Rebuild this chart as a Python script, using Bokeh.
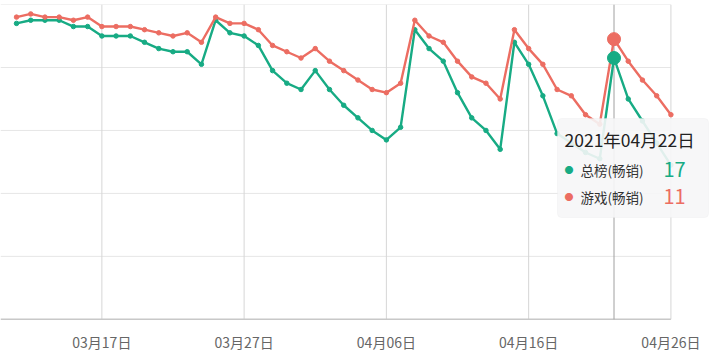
import pandas as pd
from bokeh.plotting import figure
from bokeh.models import (Range1d, FixedTicker, DatetimeTickFormatter,
                          BoxAnnotation, Label, ColumnDataSource)
from bokeh.embed import file_html
from bokeh.resources import INLINE

# ---------------- data ----------------
dates = pd.date_range("2021-03-11", "2021-04-26", freq="D")
total_rank = [6, 5, 5, 5, 7, 7, 10, 10, 10, 12, 14, 15, 15, 19, 5, 9, 10, 13, 21, 25,
              27, 21, 27, 32, 36, 40, 43, 39, 8, 14, 18, 28, 36, 40, 46, 12, 19, 29, 41, 44,
              47, 49, 17, 30, 37, 44, 51]
game_rank = [4, 3, 4, 4, 5, 4, 7, 7, 7, 8, 9, 10, 9, 12, 4, 6, 6, 8, 13, 15,
             17, 14, 18, 21, 24, 27, 28, 25, 5, 10, 12, 18, 23, 25, 30, 8, 14, 19, 27, 29,
             35, 38, 11, 18, 24, 29, 35]
series_names = ["总榜(畅销)", "游戏(畅销)"]
series_colors = ["#17ab84", "#ec6d62"]
tick_dates = ["2021-03-17", "2021-03-27", "2021-04-06", "2021-04-16", "2021-04-26"]
y_ticks = [0, 20, 40, 60, 80, 100]
tip_date = "2021-04-22"
tip_title = "2021年04月22日"

# ---------------- ranges ----------------
W, H = 725, 354
data_w = 671                      # pixel width of the drawn chart area
x_start = pd.Timestamp("2021-03-11") - pd.Timedelta(hours=27)
x_data_end = pd.Timestamp("2021-04-26") + pd.Timedelta(hours=1)
x_end = x_start + (x_data_end - x_start) * (W / data_w)
grid_end = pd.Timestamp(tick_dates[-1])

p = figure(width=W, height=H, output_backend="svg", toolbar_location=None,
           x_axis_type="datetime", y_axis_location=None,
           x_range=Range1d(x_start.to_pydatetime(), x_end.to_pydatetime()),
           y_range=Range1d(101, 0),
           min_border_left=0, min_border_right=0, min_border_top=4, min_border_bottom=31)
p.outline_line_color = None
p.background_fill_color = "white"
p.xgrid.visible = False
p.ygrid.visible = False

tick_ms = [pd.Timestamp(d).value // 10**6 for d in tick_dates]
p.xaxis.ticker = FixedTicker(ticks=tick_ms)
fmt = "%m月%d日"
p.xaxis.formatter = DatetimeTickFormatter(days=fmt, months=fmt, years=fmt, hours=fmt,
                                          hourmin=fmt, minutes=fmt, seconds=fmt,
                                          minsec=fmt, milliseconds=fmt, microseconds=fmt)
p.xaxis.axis_line_color = None
p.xaxis.major_tick_line_color = None
p.xaxis.minor_tick_line_color = None
p.xaxis.major_label_text_color = "#666666"
p.xaxis.major_label_text_font = "Noto Sans CJK SC"
p.xaxis.major_label_text_font_size = "14px"
p.xaxis.major_label_standoff = 3

# grid lines limited to the chart area
hy = y_ticks[:-1]
p.segment(x0=[x_start] * len(hy), x1=[grid_end] * len(hy), y0=hy, y1=hy,
          line_color="#e6e6e6", line_width=1)
vx = [pd.Timestamp(d) for d in tick_dates]
p.segment(x0=vx, x1=vx, y0=[y_ticks[0]] * len(vx), y1=[y_ticks[-1]] * len(vx),
          line_color="#d6d6d6", line_width=1)
# axis line
p.segment(x0=[x_start], x1=[grid_end], y0=[y_ticks[-1]], y1=[y_ticks[-1]],
          line_color="#c8c8c8", line_width=1.5)

# crosshair at tooltip date
tip_ts = pd.Timestamp(tip_date)
p.segment(x0=[tip_ts], x1=[tip_ts], y0=[y_ticks[0]], y1=[y_ticks[-1]],
          line_color="#a0a0a0", line_width=1)

src = ColumnDataSource(dict(date=dates, total=total_rank, game=game_rank))
for col, color in zip(["total", "game"], series_colors):
    p.line("date", col, source=src, line_color=color, line_width=2.4)
    p.scatter("date", col, source=src, size=4.5, fill_color=color, line_color=color)

idx = list(dates).index(tip_ts)
for vals, color in zip([total_rank, game_rank], series_colors):
    p.scatter([dates[idx]], [vals[idx]], size=13, fill_color=color, line_color=color)

# ---------------- tooltip ----------------
fb = 323  # frame bottom in canvas pixels (for screen-unit conversion)
p.add_layout(BoxAnnotation(left=557, right=708, top=fb - 119, bottom=fb - 218,
                           left_units="screen", right_units="screen",
                           top_units="screen", bottom_units="screen",
                           fill_color="#f6f6f7", fill_alpha=0.9,
                           line_color="#e8e8e8", line_width=1, border_radius=4,
                           level="overlay"))
font = "Noto Sans CJK SC"
p.add_layout(Label(x=564, y=fb - 140, x_units="screen", y_units="screen", text=tip_title,
                   text_font=font, text_font_size="17.5px", text_color="#222222",
                   text_baseline="middle", level="overlay"))
row_y = [170, 197]
for name, vals, color, ry in zip(series_names, [total_rank, game_rank], series_colors, row_y):
    p.add_layout(Label(x=564, y=fb - ry, x_units="screen", y_units="screen", text="●",
                       text_font=font, text_font_size="9px", text_color=color,
                       text_baseline="middle", level="overlay"))
    p.add_layout(Label(x=580, y=fb - ry, x_units="screen", y_units="screen", text=name,
                       text_font=font, text_font_size="13.5px", text_color="#333333",
                       text_baseline="middle", level="overlay"))
    p.add_layout(Label(x=663, y=fb - ry, x_units="screen", y_units="screen", text=str(vals[idx]),
                       text_font=font, text_font_size="20px", text_color=color,
                       text_baseline="middle", level="overlay"))

open("out.html", "w").write(file_html(p, INLINE))
